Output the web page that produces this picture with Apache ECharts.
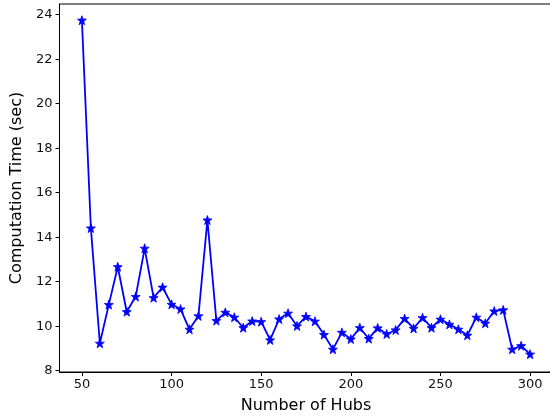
<!DOCTYPE html>
<html>
<head>
<meta charset="utf-8">
<script src="https://cdn.jsdelivr.net/npm/echarts@6/dist/echarts.min.js"></script>
<style>
  html, body { margin: 0; padding: 0; background: #fff; }
  #chart { width: 550px; height: 417px; }
</style>
</head>
<body>
<div id="chart"></div>
<script>
// Number of hubs (x) and measured computation time in seconds (y)
const hubs = [50, 55, 60, 65, 70, 75, 80, 85, 90, 95,
              100, 105, 110, 115, 120, 125, 130, 135, 140, 145,
              150, 155, 160, 165, 170, 175, 180, 185, 190, 195,
              200, 205, 210, 215, 220, 225, 230, 235, 240, 245,
              250, 255, 260, 265, 270, 275, 280, 285, 290, 295, 300];
const timeSec = [23.75, 14.41, 9.23, 10.97, 12.67, 10.65, 11.33, 13.50, 11.28, 11.75,
                 10.98, 10.77, 9.86, 10.46, 14.77, 10.25, 10.62, 10.40, 9.93, 10.23,
                 10.20, 9.38, 10.32, 10.58, 10.01, 10.43, 10.22, 9.62, 8.96, 9.72,
                 9.42, 9.93, 9.44, 9.92, 9.65, 9.83, 10.34, 9.90, 10.38, 9.93,
                 10.31, 10.08, 9.86, 9.59, 10.40, 10.13, 10.68, 10.73, 8.96, 9.12, 8.74];
const xTicks = [50, 100, 150, 200, 250, 300];
const yTicks = [8, 10, 12, 14, 16, 18, 20, 22, 24];

const starPath = 'path://M0,-10 L2.35,-3.24 L9.51,-3.09 L3.8,1.24 L5.88,8.09 L0,4 L-5.88,8.09 L-3.8,1.24 L-9.51,-3.09 L-2.35,-3.24 Z';
const font = 'DejaVu Sans';
const points = hubs.map((h, i) => [h, timeSec[i]]);

const chart = echarts.init(document.getElementById('chart'), null, { renderer: 'canvas' });
chart.setOption({
  animation: false,
  backgroundColor: '#ffffff',
  grid: {
    left: 59.5, top: 4, right: -2.5, bottom: 45,
    outerBoundsMode: 'none',
    containLabel: false,
    show: true, borderColor: '#000', borderWidth: 1, backgroundColor: 'transparent'
  },
  xAxis: {
    type: 'value',
    min: 37.5, max: 312.5,
    name: 'Number of Hubs',
    nameLocation: 'middle',
    nameGap: 26,
    nameTextStyle: { fontFamily: font, fontSize: 16, color: '#000' },
    axisLine: { show: true, lineStyle: { color: '#000', width: 1 } },
    axisTick: { show: true, length: 4, lineStyle: { color: '#000' }, customValues: xTicks },
    axisLabel: { fontFamily: font, fontSize: 13, color: '#111', margin: 6, customValues: xTicks },
    splitLine: { show: false }
  },
  yAxis: {
    type: 'value',
    min: 7.94, max: 24.48,
    name: 'Computation Time (sec)',
    nameLocation: 'middle',
    nameGap: 33,
    nameTextStyle: { fontFamily: font, fontSize: 16, color: '#000' },
    axisLine: { show: true, lineStyle: { color: '#000', width: 1 } },
    axisTick: { show: true, length: 4, lineStyle: { color: '#000' }, customValues: yTicks },
    axisLabel: { fontFamily: font, fontSize: 13, color: '#111', margin: 7, customValues: yTicks },
    splitLine: { show: false }
  },
  series: [{
    type: 'line',
    data: points,
    symbol: starPath,
    symbolSize: 9,
    showAllSymbol: true,
    lineStyle: { color: '#0000ff', width: 1.8 },
    itemStyle: { color: '#0000ff', borderColor: '#0000ff', borderWidth: 0.8 }
  }]
});
</script>
</body>
</html>
